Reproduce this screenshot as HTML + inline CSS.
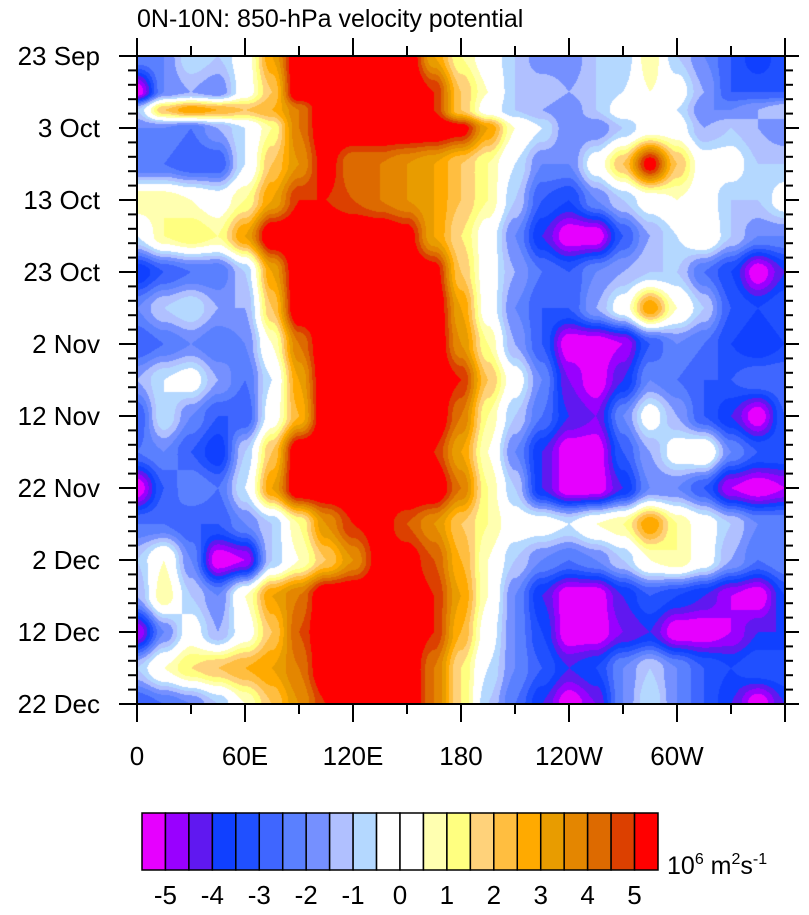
<!DOCTYPE html>
<html><head><meta charset="utf-8"><style>
html,body{margin:0;padding:0;background:#fff;}
#wrap{position:relative;width:809px;height:915px;overflow:hidden;font-family:"Liberation Sans",sans-serif;}
canvas{position:absolute;left:137px;top:56px;}
svg{position:absolute;left:0;top:0;}
text{font-family:"Liberation Sans",sans-serif;fill:#000;}
</style></head><body>
<div id="wrap">
<canvas id="field" width="648" height="648"></canvas>
<svg id="svg" width="809" height="915"></svg>
</div>
<script>
// ---- data ----
const lons = [0,15,30,45,60,75,90,105,120,135,150,165,180,195,210,225,240,255,270,285,300,315,330,345,360];
const days = [0,5,7.5,10,15,20,25,30,35,40,45,50,55,60,65,70,75,80,85,90];
const row00 = [-2,-2,-0.5,-1,0,3,6,6,6,6,6,3,1,0,-1,-2,-2,-1,-1,1,-1,-2,-3,-4,-3];
const row05 = [-5.5,-2,-1.5,-2,0,2,6,6,6,6,6,5,2,0.5,-1,-1,-1.5,-1,-0.5,0.5,0,-1.5,-3,-3,-3];
const row07 = [-1,2,3,2.5,2,2.5,4,6,6,6,6,5,2,0,-1,-1.5,-2,-1,0,0,-0.5,-2,-2,-1.5,-1];
const row10 = [-2,-2,-2.5,-1.5,-0.5,1,4,6,6,6,6,6,5.5,3,0.5,-0.5,-2,-2,-1,0,0,-1.5,-1,-1.5,-2];
const row15 = [-2.5,-2.5,-3,-3,-0.5,2,3.5,5.5,4,4,3.5,3,2,1,-0.5,-2,-2,0,2,5.5,2,0,0,-1,-1];
const row20 = [1,1,0.5,0,1,3,5,5,4.5,4,3.5,3,2,1,-1,-3,-3.5,-2,-1,0,0.5,0,-1,-1,0];
const row25 = [-0.5,1,1.5,1,3,6,6,6,6,6,5.5,3,1.5,0,-2,-4,-5.5,-5.5,-3,-1.5,-0.5,0.5,-1,-2,-2];
const row30 = [-4,-3,-2.5,-2.5,-1,3,6,6,6,6,6,5.5,2,0,-1.5,-2.5,-3,-2,-1.5,-1,-1,-2.5,-3.5,-5.5,-4];
const row35 = [-2,-1,-0.5,-1.5,-1.5,2,6,6,6,6,6,6,3,0,-2,-3,-3,-1.5,0,3,0.5,-1,-3,-3.5,-3];
const row40 = [-3,-2.5,-2,-2.5,-2,0.5,4,6,6,6,6,6,3.5,1,-1.5,-3,-5.5,-5.5,-5,-3,-2,-2.5,-3.5,-4,-3.5];
const row45 = [-1.5,-0.5,0,-1.5,-2.5,-0.5,3,6,6,6,6,6,5,2,0,-2,-4.5,-5.5,-4,-2,-2.5,-3,-3,-2.5,-2.5];
const row50 = [-3,-0.5,-2,-3,-3,0,2.5,6,6,6,6,6,4,1,-1,-2.5,-4,-4.5,-2,0,-1.5,-3,-4,-5.5,-3];
const row55 = [-2.5,-2,-3,-4,-1,2,6,6,6,6,6,5,3,0.5,-2,-4,-5.5,-5.5,-3,-1.5,0,0.5,-2,-3,-3];
const row60 = [-5.5,-3,-2,-2.5,-0.5,3,6,6,6,6,6,6,4,1,-1,-4,-5.5,-5.5,-4,-2,-2,-3,-5,-5.5,-5];
const row65 = [-2.5,-2.5,-3,-3,-2,-1,1,3.5,5,5.5,4.5,3.5,2,1,0,0,-0.5,0.5,1,3,1,0,-1,-2,-2];
const row70 = [-1,0.5,-2,-5.5,-5,-1,0.5,2,3.5,5.5,5.5,4.5,2.5,0.5,-1,-2,-2.5,-2,-1,0.5,1,0,-1.5,-2.5,-2];
const row75 = [-1.5,1,-1,-2,0.5,3,4,6,6,6,6,5,3,0.5,-2,-4,-5.5,-5.5,-4,-3,-3.5,-4,-5,-5.5,-3.5];
const row80 = [-5,-2,0,-1.5,0,2,4.5,6,6,6,6,5,2.5,0,-2,-3.5,-5.5,-5.5,-4.5,-4,-5.5,-5.5,-5,-4,-4];
const row85 = [-1,0.5,1.5,2,2.5,3,4,6,6,6,6,4,1.5,-0.5,-2,-3,-4,-3.5,-2,-1,-2,-3,-3.5,-3,-3];
const row90 = [-3,-2.5,-2,-1,0.5,2,3.5,5,6,6,6,4,1.5,-1,-2.5,-4,-5.5,-4.5,-2,-0.5,-2,-3,-4,-5.5,-4];
const field = [row00,row05,row07,row10,row15,row20,row25,row30,row35,row40,row45,row50,row55,row60,row65,row70,row75,row80,row85,row90];
const levels = [-5,-4.5,-4,-3.5,-3,-2.5,-2,-1.5,-1,-0.5,0,0.5,1,1.5,2,2.5,3,3.5,4,4.5,5];
const palette = ["#e600ff","#9900ff","#6018f0","#1040ff","#2050ff","#3f66ff","#5a80ff","#7590ff","#b0c0ff","#b4d8ff","#ffffff","#ffffff","#ffffb0","#ffff80","#ffd27a","#ffbe40","#ffaa00","#e89c00","#e48600","#dd6a00","#dc4000","#ff0000"];
const dateLabels = ["23 Sep","3 Oct","13 Oct","23 Oct","2 Nov","12 Nov","22 Nov","2 Dec","12 Dec","22 Dec"];
const lonTicks = [0,60,120,180,240,300];
const lonLabels = ["0","60E","120E","180","120W","60W"];
const cbLabels = [-5,-4,-3,-2,-1,0,1,2,3,4,5];

// ---- axes ----
const PX=137, PY=56, PW=648, PH=648;
const xOf = lon => PX + lon/360*PW;
const yOf = d => PY + d/90*PH;

// ---- field rendering ----
function hexRgb(h){return [parseInt(h.substr(1,2),16),parseInt(h.substr(3,2),16),parseInt(h.substr(5,2),16)];}
const palRgb = palette.map(hexRgb);
function colorIdx(v){let i=0;while(i<levels.length && v>=levels[i]) i++;return i;}
function sample(lon,d){
  let j=0;while(j<lons.length-2 && lon>lons[j+1]) j++;
  let i=0;while(i<days.length-2 && d>days[i+1]) i++;
  const tx=(lon-lons[j])/(lons[j+1]-lons[j]);
  const ty=(d-days[i])/(days[i+1]-days[i]);
  const sx=tx*tx*(3-2*tx), sy=ty*ty*(3-2*ty);
  const a=field[i][j],b=field[i][j+1],c=field[i+1][j],e=field[i+1][j+1];
  return (a*(1-sx)+b*sx)*(1-sy)+(c*(1-sx)+e*sx)*sy;
}
const cv=document.getElementById('field');
const ctx=cv.getContext('2d');
const img=ctx.createImageData(PW,PH);
for(let y=0;y<PH;y++){
  const d=(y+0.5)/PH*90;
  for(let x=0;x<PW;x++){
    const lon=(x+0.5)/PW*360;
    const c=palRgb[colorIdx(sample(lon,d))];
    const k=(y*PW+x)*4;
    img.data[k]=c[0];img.data[k+1]=c[1];img.data[k+2]=c[2];img.data[k+3]=255;
  }
}
ctx.putImageData(img,0,0);

// ---- SVG ----
const NS="http://www.w3.org/2000/svg";
const svg=document.getElementById('svg');
function mk(tag,attrs,parent){const e=document.createElementNS(NS,tag);for(const k in attrs)e.setAttribute(k,attrs[k]);(parent||svg).appendChild(e);return e;}
function line(x1,y1,x2,y2,w,g){return mk('line',{x1:x1,y1:y1,x2:x2,y2:y2,stroke:'#000','stroke-width':w},g);}

const title=mk('text',{x:137,y:27,'font-size':25});
title.textContent="0N-10N: 850-hPa velocity potential";



const frame=mk('rect',{x:PX,y:PY,width:PW,height:PH,fill:'none',stroke:'#000','stroke-width':2});



const yAxis=mk('g',{});


for(let d=0; d<=90; d+=2){
  const y=yOf(d), major=(d%10===0);
  line(PX-(major?18:9),y,PX,y,2,yAxis);
  line(PX+PW,y,PX+PW+(major?14:8),y,2,yAxis);
}
dateLabels.forEach((s,i)=>{
  const t=mk('text',{x:100,y:yOf(i*10)+9,'font-size':26,'text-anchor':'end'},yAxis);
  t.textContent=s;
  
  
});

const xAxis=mk('g',{});


for(let l=0;l<=360;l+=30){
  const x=xOf(l), major=(l%60===0);
  line(x,PY-(major?18:10),x,PY,2,xAxis);
  line(x,PY+PH,x,PY+PH+(major?18:10),2,xAxis);
}
lonTicks.forEach((l,i)=>{
  const t=mk('text',{x:xOf(l),y:765,'font-size':26,'text-anchor':'middle'},xAxis);
  t.textContent=lonLabels[i];
  
  
});

// colorbar
const cb=mk('g',{});


const CBX=142, CBY=813, CBW=516, CBH=57, bw=CBW/palette.length;
palette.forEach((c,i)=>{
  const r=mk('rect',{x:CBX+i*bw,y:CBY,width:bw,height:CBH,fill:c,stroke:'#000','stroke-width':1.5},cb);
  
  
});
cbLabels.forEach(v=>{
  const idx=levels.indexOf(v);
  const t=mk('text',{x:CBX+(idx+1)*bw,y:904,'font-size':26,'text-anchor':'middle'},cb);
  t.textContent=String(v);
  
  
});
const unit=mk('text',{x:667,y:874,'font-size':25},cb);


unit.innerHTML='10<tspan dy="-10" font-size="16">6</tspan><tspan dy="10"> m</tspan><tspan dy="-10" font-size="16">2</tspan><tspan dy="10">s</tspan><tspan dy="-10" font-size="16">-1</tspan>';
</script>
</body></html>
